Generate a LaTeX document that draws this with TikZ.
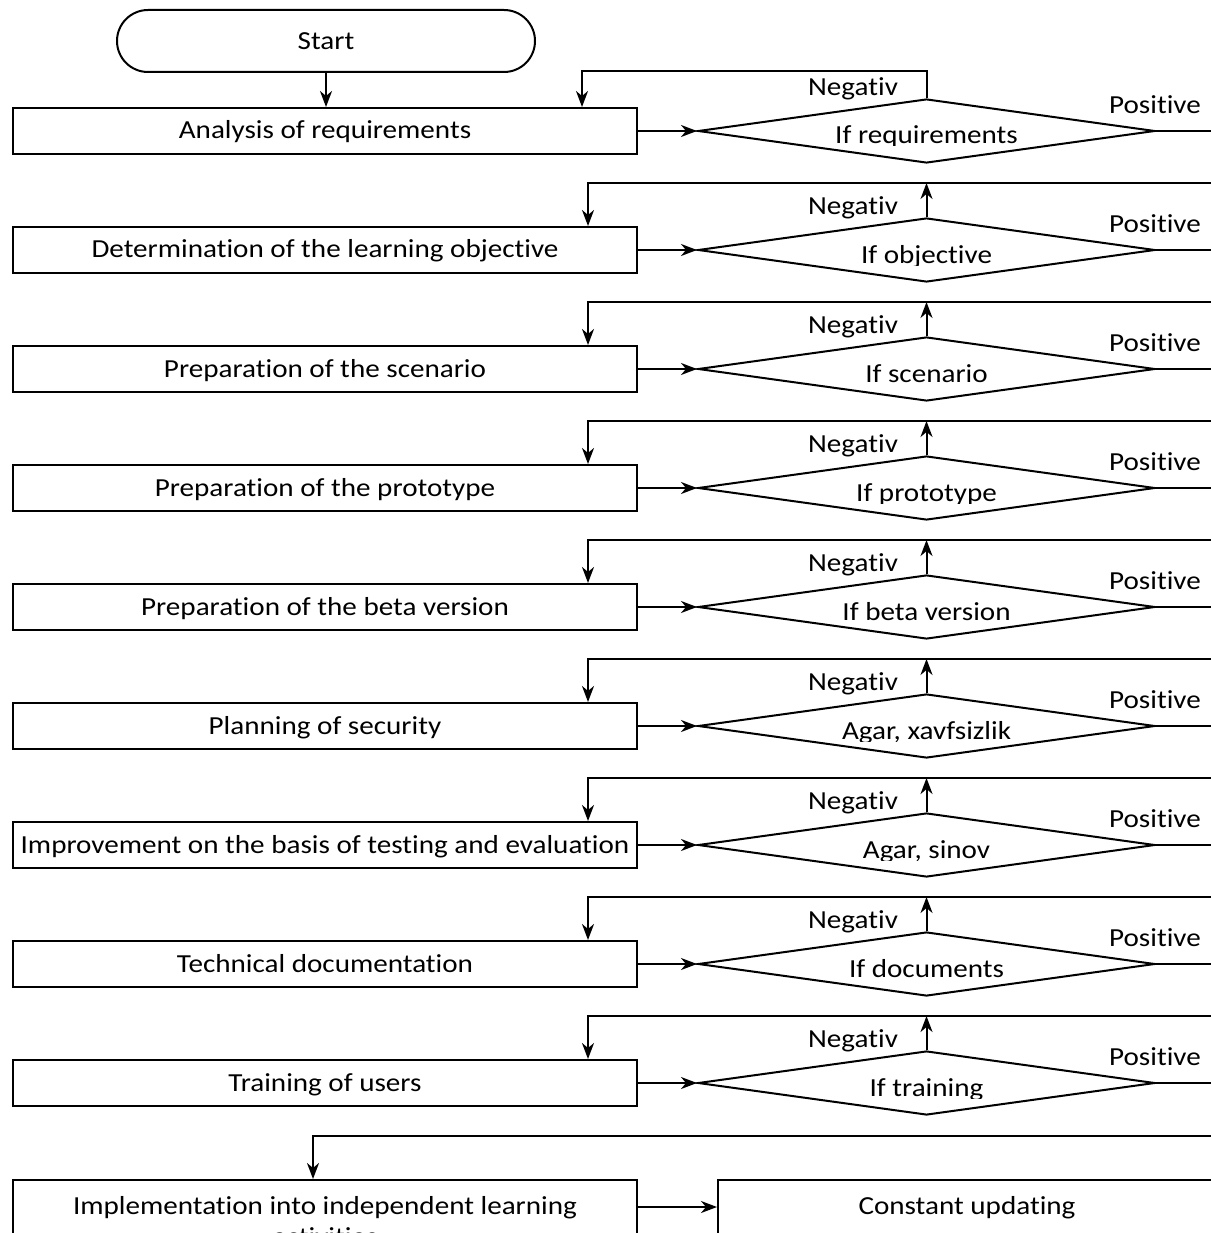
\documentclass[tikz,border=0pt]{standalone}
\usepackage{fontspec}
\setmainfont{Carlito}[FakeStretch=1.12,Ligatures=NoCommon]
\usetikzlibrary{arrows.meta,shapes.geometric}
\begin{document}
\begin{tikzpicture}[x=1pt,y=-1pt,
  every node/.style={font=\fontsize{26}{35}\selectfont},
  ln/.style={line width=2pt},
  box/.style={draw, ln, minimum width=624pt, minimum height=46pt, inner sep=0pt, text height=21pt, text depth=5pt},
  dec/.style={draw, diamond, ln, minimum width=457pt, minimum height=64pt, inner sep=0pt},
  arr/.style={ln, -{Stealth[length=16pt,width=12pt,inset=5pt]}},
  lbl/.style={inner sep=0pt}
]
\useasboundingbox (0,0) rectangle (1210,1233);
\fill[white] (0,0) rectangle (1210,1233);

\node[draw, ln, rounded corners=31pt, minimum width=418pt, minimum height=62pt, inner sep=0pt] (start) at (326,41) {Start};

\foreach \i/\c/\rt/\dt in {
  1/131/{Analysis of requirements}/{If requirements},
  2/250/{Determination of the learning objective}/{If objective},
  3/369/{Preparation of the scenario}/{If scenario},
  4/488/{Preparation of the prototype}/{If prototype},
  5/607/{Preparation of the beta version}/{If beta version},
  6/726/{Planning of security}/{Agar, xavfsizlik},
  7/845/{Improvement on the basis of testing and evaluation}/{Agar, sinov},
  8/964/{Technical documentation}/{If documents},
  9/1083/{Training of users}/{If training}} {
  \node[box] (r\i) at (325,\c) {\rt};
  \node[dec] (d\i) at (926.5,\c) {};
  \draw[arr] (r\i.east) -- (d\i.west);
  \begin{scope}
    \clip (700,\c-40) rectangle (1150,\c+15);
    \node[anchor=base, inner sep=0pt] (t\i) at (926.5,\c+13) {\dt};
  \end{scope}
  \node[lbl] (n\i) at (853,\c-42) {Negativ};
  \node[lbl] (p\i) at (1155,\c-26) {Positive};
  \coordinate (pe\i) at (1215,\c);
  \draw[ln] (d\i.east) -- (pe\i);
}

% start to first step
\draw[arr] (start.south) -- (start.south |- r1.north);

% first feedback loop
\coordinate (f1) at (582,71);
\draw[arr] (d1.north) |- (f1) -- (f1 |- r1.north);

% feedback loops rows 2-9
\foreach \i/\c in {2/250,3/369,4/488,5/607,6/726,7/845,8/964,9/1083} {
  \coordinate (fR\i) at (1215,\c-67);
  \coordinate (fL\i) at (588,\c-67);
  \draw[arr] (fR\i) -- (fL\i) -- (fL\i |- r\i.north);
  \draw[arr] (d\i.north) -- (d\i.north |- fR\i);
}

% last row
\node[draw, ln, minimum width=624pt, minimum height=85pt, inner sep=0pt] (r10) at (325,1222.5) {};
\node[anchor=base, inner sep=0pt] (t10a) at (325,1214) {Implementation into independent learning};
\node[anchor=base, inner sep=0pt] (t10b) at (325,1245) {activities};
\node[draw, ln, minimum width=498pt, minimum height=85pt, inner sep=0pt] (r11) at (967,1222.5) {};
\node[anchor=base, inner sep=0pt] (t11) at (967,1214) {Constant updating};
\coordinate (fR10) at (1215,1136);
\coordinate (fL10) at (313,1136);
\draw[arr] (fR10) -- (fL10) -- (fL10 |- r10.north);
\coordinate (ay) at (0,1207);
\draw[arr] (r10.east |- ay) -- (r11.west |- ay);
\end{tikzpicture}
\end{document}
